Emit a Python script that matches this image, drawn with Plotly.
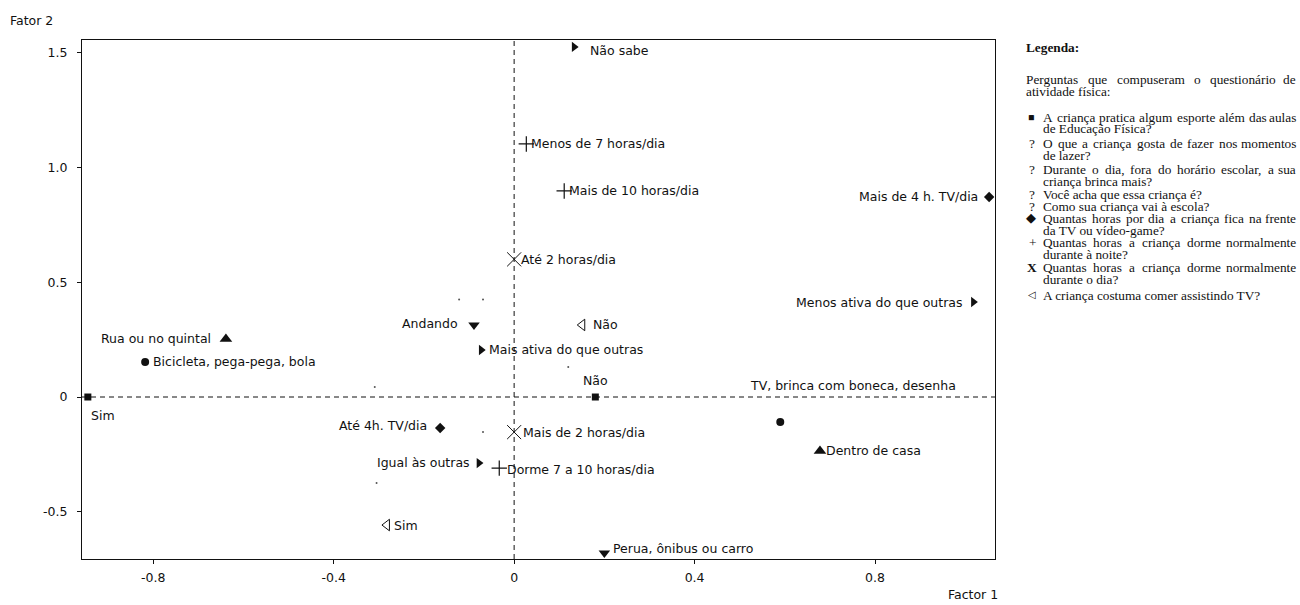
import plotly.graph_objects as go

# ---------------- data ----------------
esporte_x = [-0.945, 0.18]
esporte_y = [0.0, 0.0]
esporte_lbl = ["Sim", "Não"]

lazer_x = [-0.818, 0.59]
lazer_y = [0.153, -0.109]
lazer_lbl = ["Bicicleta, pega-pega, bola", "TV, brinca com boneca, desenha"]

brinca_x = [-0.639, 0.678]
brinca_y = [0.253, -0.235]
brinca_lbl = ["Rua ou no quintal", "Dentro de casa"]

ativa_x = [0.133, 1.018, -0.073, -0.078]
ativa_y = [1.526, 0.414, 0.205, -0.288]
ativa_lbl = ["Não sabe", "Menos ativa do que outras", "Mais ativa do que outras", "Igual às outras"]

escola_x = [-0.089, 0.20]
escola_y = [0.314, -0.68]
escola_lbl = ["Andando", "Perua, ônibus ou carro"]

tv_x = [1.053, -0.164]
tv_y = [0.872, -0.135]
tv_lbl = ["Mais de 4 h. TV/dia", "Até 4h. TV/dia"]

noite_x = [0.027, 0.111, -0.033]
noite_y = [1.103, 0.898, -0.31]
noite_lbl = ["Menos de 7 horas/dia", "Mais de 10 horas/dia", "Dorme 7 a 10 horas/dia"]

dia_x = [0.0, 0.0]
dia_y = [0.60, -0.153]
dia_lbl = ["Até 2 horas/dia", "Mais de 2 horas/dia"]

comer_x = [0.151, -0.282]
comer_y = [0.314, -0.558]
comer_lbl = ["Não", "Sim"]

speck_x = [-0.122, -0.069, 0.120, -0.309, -0.069, -0.305]
speck_y = [0.425, 0.425, 0.131, 0.044, -0.153, -0.375]

x_ticks = [-0.8, -0.4, 0, 0.4, 0.8]
x_ticktext = ["-0.8", "-0.4", "0", "0.4", "0.8"]
y_ticks = [-0.5, 0, 0.5, 1.0, 1.5]
y_ticktext = ["-0.5", "0", "0.5", "1.0", "1.5"]

legend_title = "Legenda:"
legend_intro = ["Perguntas que compuseram o questionário de", "atividade física:"]
legend_items = [
    ("■", ["A criança pratica algum esporte além das aulas", "de Educação Física?"]),
    ("?", ["O que a criança gosta de fazer nos momentos", "de lazer?"]),
    ("?", ["Durante o dia, fora do horário escolar, a sua", "criança brinca mais?"]),
    ("?", ["Você acha que essa criança é?"]),
    ("?", ["Como sua criança vai à escola?"]),
    ("◆", ["Quantas horas por dia a criança fica na frente", "da TV ou vídeo-game?"]),
    ("+", ["Quantas horas a criança dorme normalmente", "durante à noite?"]),
    ("X", ["Quantas horas a criança dorme normalmente", "durante o dia?"]),
    ("◁", ["A criança costuma comer assistindo TV?"]),
]

# ---------------- style ----------------
W, H = 1300, 605
ML, MR, MT, MB = 82, 305, 40, 46
PW, PH = W - ML - MR, H - MT - MB
SANS = "DejaVu Sans, Verdana, sans-serif"
SSZ = 12.5
SERIF = "Times New Roman, Liberation Serif, serif"
INK = "#111111"

groups = [
    (esporte_x, esporte_y, esporte_lbl, dict(symbol="square", size=7, color=INK)),
    (lazer_x, lazer_y, lazer_lbl, dict(symbol="circle", size=8, color=INK)),
    (brinca_x, brinca_y, brinca_lbl, dict(symbol="triangle-up", size=11, color=INK)),
    (ativa_x, ativa_y, ativa_lbl, dict(symbol="triangle-right", size=9, color=INK)),
    (escola_x, escola_y, escola_lbl, dict(symbol="triangle-down", size=10, color=INK)),
    (tv_x, tv_y, tv_lbl, dict(symbol="diamond", size=8, color=INK)),
    (noite_x, noite_y, noite_lbl, dict(symbol="cross-thin", size=11, color=INK, line=dict(width=1.2, color=INK))),
    (dia_x, dia_y, dia_lbl, dict(symbol="x-thin", size=14, color=INK, line=dict(width=1, color=INK))),
    (comer_x, comer_y, comer_lbl, dict(symbol="triangle-left-open", size=10, color=INK, line=dict(width=1, color=INK))),
]

# label placement per point: (xanchor, xshift, yshift)
label_place = {
    "Sim|0": ("left", 2, -18),
    "Não|0": ("center", 0, 17),
    "Bicicleta, pega-pega, bola|1": ("left", 7, 0),
    "TV, brinca com boneca, desenha|1": ("center", 73, 37),
    "Rua ou no quintal|2": ("right", -14, 0),
    "Dentro de casa|2": ("left", 5, 0),
    "Não sabe|3": ("left", 15, -4),
    "Menos ativa do que outras|3": ("right", -10, 0),
    "Mais ativa do que outras|3": ("left", 7, 0),
    "Igual às outras|3": ("right", -8, 1),
    "Andando|4": ("right", -15, 1),
    "Perua, ônibus ou carro|4": ("left", 8, 5),
    "Mais de 4 h. TV/dia|5": ("right", -10, 0),
    "Até 4h. TV/dia|5": ("right", -12, 2),
    "Menos de 7 horas/dia|6": ("left", 4, 0),
    "Mais de 10 horas/dia|6": ("left", 4, 0),
    "Dorme 7 a 10 horas/dia|6": ("left", 7, -1),
    "Até 2 horas/dia|7": ("left", 6, 0),
    "Mais de 2 horas/dia|7": ("left", 8, 0),
    "Não|8": ("left", 10, 0),
    "Sim|8": ("left", 6, 0),
}

fig = go.Figure()
annotations = []
for gi, (gx, gy, gl, mk) in enumerate(groups):
    fig.add_trace(go.Scatter(x=gx, y=gy, mode="markers", marker=mk,
                             showlegend=False, hoverinfo="text", text=gl))
    for xv, yv, lb in zip(gx, gy, gl):
        xa, xs, ys = label_place.get(f"{lb}|{gi}", ("left", 8, 0))
        annotations.append(dict(x=xv, y=yv, xref="x", yref="y", text=lb,
                                showarrow=False, xanchor=xa, yanchor="middle",
                                xshift=xs, yshift=ys, borderpad=0,
                                font=dict(family=SANS, size=SSZ, color=INK)))

fig.add_trace(go.Scatter(x=speck_x, y=speck_y, mode="markers",
                         marker=dict(size=2, color="#555555"),
                         showlegend=False, hoverinfo="skip"))

# dashed reference lines
shapes = [
    dict(type="line", xref="x", yref="paper", x0=0, x1=0, y0=0, y1=1,
         line=dict(color=INK, width=1, dash="5px,4px")),
    dict(type="line", xref="paper", yref="y", x0=0, x1=1, y0=0, y1=0,
         line=dict(color=INK, width=1, dash="5px,4px")),
]

# axis titles
annotations.append(dict(x=(9 - ML) / PW, y=1 - (20 - MT) / PH, xref="paper", yref="paper",
                        text="Fator 2", showarrow=False, xanchor="left", yanchor="middle",
                        borderpad=0, font=dict(family=SANS, size=SSZ, color=INK)))
annotations.append(dict(x=(947 - ML) / PW, y=1 - (594 - MT) / PH, xref="paper", yref="paper",
                        text="Factor 1", showarrow=False, xanchor="left", yanchor="middle",
                        borderpad=0, font=dict(family=SANS, size=SSZ, color=INK)))

# ---------------- legend panel (justified serif text) ----------------
TIMES_W = {
    " ": 250, "!": 333, ",": 250, "-": 333, ".": 250, "/": 278, ":": 278, "?": 444,
    "A": 722, "B": 667, "C": 667, "D": 722, "E": 611, "F": 556, "G": 722, "H": 722,
    "I": 333, "J": 389, "K": 722, "L": 611, "M": 889, "N": 722, "O": 722, "P": 556,
    "Q": 722, "R": 667, "S": 556, "T": 611, "U": 722, "V": 722, "W": 944, "X": 722,
    "Y": 722, "Z": 611,
    "a": 444, "b": 500, "c": 444, "d": 500, "e": 444, "f": 333, "g": 500, "h": 500,
    "i": 278, "j": 278, "k": 500, "l": 278, "m": 778, "n": 500, "o": 500, "p": 500,
    "q": 500, "r": 333, "s": 389, "t": 278, "u": 500, "v": 500, "w": 722, "x": 500,
    "y": 500, "z": 444,
    "á": 444, "à": 444, "ã": 444, "â": 444, "é": 444, "ê": 444, "í": 278, "ó": 500,
    "ô": 500, "õ": 500, "ú": 500, "ç": 444,
}
FS = 13.3


def wwidth(word):
    return sum(TIMES_W.get(c, 500) for c in word) * FS / 1000.0


def px2paper(px, py):
    return (px - ML) / PW, 1 - (py - MT) / PH


def put_text(px, py, text, anchor="left", bold=False, size=FS):
    x, y = px2paper(px, py)
    annotations.append(dict(x=x, y=y, xref="paper", yref="paper",
                            text=f"<b>{text}</b>" if bold else text,
                            showarrow=False, xanchor=anchor, yanchor="middle",
                            borderpad=0,
                            font=dict(family=SERIF, size=size, color=INK)))


def put_line(left, right, py, text, justify):
    words = text.split(" ")
    if not justify or len(words) < 2:
        put_text(left, py, text)
        return
    total = sum(wwidth(w) for w in words)
    gap = (right - left - total) / (len(words) - 1)
    cx = left
    for w in words[:-1]:
        put_text(cx, py, w)
        cx += wwidth(w) + gap
    put_text(right, py, words[-1], anchor="right")


RIGHT = 1297
put_text(1025, 47, legend_title, bold=True)
put_line(1025, RIGHT, 79, legend_intro[0], True)
put_line(1025, RIGHT, 91, legend_intro[1], False)

item_rows = [(117, 128), (143, 155), (169, 181), (194,), (206,), (218, 230), (242, 254), (267, 279), (295,)]
for (bullet, lines), rows in zip(legend_items, item_rows):
    if bullet == "X":
        put_text(1026, rows[0], "X", bold=True, size=13.5)
    elif bullet == "■":
        put_text(1027, rows[0], "■", size=10.5)
    elif bullet == "◆":
        put_text(1025, rows[0], "◆", size=12.5)
    elif bullet == "◁":
        put_text(1027, rows[0], "◁", size=9.5)
    else:
        put_text(1028, rows[0], bullet)
    for li, (ln, ry) in enumerate(zip(lines, rows)):
        put_line(1042, RIGHT, ry, ln, li < len(lines) - 1)

fig.update_layout(
    width=W, height=H,
    margin=dict(l=ML, r=MR, t=MT, b=MB, pad=0),
    paper_bgcolor="white", plot_bgcolor="white",
    shapes=shapes, annotations=annotations,
    xaxis=dict(range=[-0.958, 1.066], tickvals=x_ticks, ticktext=x_ticktext,
               showgrid=False, zeroline=False, showline=True, mirror=True,
               linecolor=INK, linewidth=1, ticks="outside", ticklen=4,
               tickcolor=INK, ticklabelstandoff=3,
               tickfont=dict(family=SANS, size=SSZ, color=INK)),
    yaxis=dict(range=[-0.706, 1.556], tickvals=y_ticks, ticktext=y_ticktext,
               showgrid=False, zeroline=False, showline=True, mirror=True,
               linecolor=INK, linewidth=1, ticks="outside", ticklen=4,
               tickcolor=INK, ticklabelstandoff=7,
               tickfont=dict(family=SANS, size=SSZ, color=INK)),
)

fig.write_html("out.html", config={"displayModeBar": False},
               post_script="document.body.style.margin='0';document.body.style.padding='0';")
